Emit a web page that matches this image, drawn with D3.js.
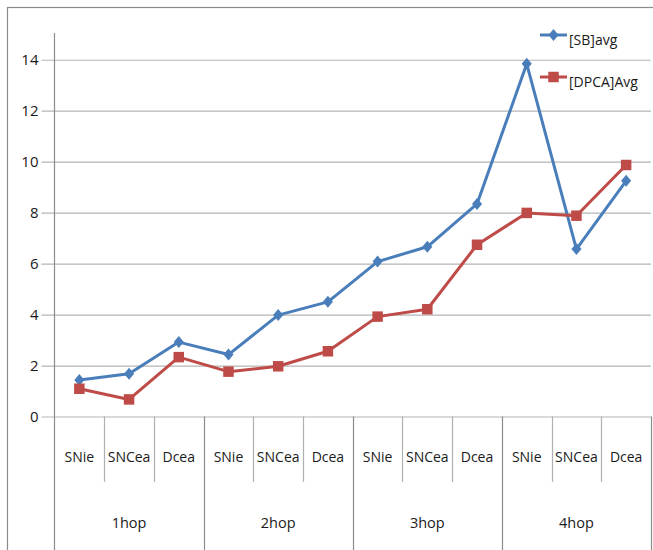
<!DOCTYPE html>
<html>
<head>
<meta charset="utf-8">
<script src="https://cdn.jsdelivr.net/npm/d3@7"></script>
<style>
  html, body { margin: 0; padding: 0; background: #fff; }
  svg { display: block; }
  text { font-family: "Open Sans", "Noto Sans", sans-serif; fill: #1a1a1a; }
</style>
</head>
<body>
<svg id="chart" width="653" height="550"></svg>
<script>
// Hop groups and the three methods measured inside each group
const groups = ["1hop", "2hop", "3hop", "4hop"];
const methods = ["SNie", "SNCea", "Dcea"];

// Average values per (group, method), in group order
const sbAvg   = [1.43, 1.68, 2.92, 2.43, 3.98, 4.50, 6.08, 6.66, 8.34, 13.84, 6.57, 9.25];
const dpcaAvg = [1.09, 0.67, 2.33, 1.76, 1.97, 2.56, 3.92, 4.21, 6.74, 7.99, 7.88, 9.87];

const seriesNames = ["[SB]avg", "[DPCA]Avg"];
const yTicks = [0, 2, 4, 6, 8, 10, 12, 14];

const svg = d3.select("#chart");
const W = 653, H = 550;
const plotLeft = 54.5, plotRight = 651, plotTop = 33, zeroY = 416.5;

const keys = [];
groups.forEach(g => methods.forEach(m => keys.push({ g, m, id: g + "|" + m })));

const x = d3.scaleBand().domain(keys.map(k => k.id)).range([plotLeft, plotRight]);
const y = d3.scaleLinear().domain([0, 15.05]).range([zeroY, plotTop]);

const gridColor = "#b5b5b5";
const axisColor = "#8c8c8c";

// outer frame
svg.append("rect")
  .attr("x", 7.5).attr("y", 7.5).attr("width", W + 20).attr("height", H + 20)
  .attr("fill", "none").attr("stroke", "#8a8a8a").attr("stroke-width", 1.2);

// horizontal gridlines with outside ticks
const yAxis = d3.axisLeft(y).tickValues(yTicks).tickSize(-(plotRight - plotLeft)).tickPadding(16).tickSizeOuter(0);
const yg = svg.append("g").attr("transform", `translate(${plotLeft},0)`).call(yAxis);
yg.select(".domain").remove();
yg.selectAll(".tick line").attr("stroke", gridColor).attr("stroke-width", 1.2).attr("x1", -13);
yg.selectAll(".tick text").attr("font-size", 15).attr("fill", "#1a1a1a")
  .attr("font-family", "'Open Sans', 'Noto Sans', sans-serif");

// vertical axis line
svg.append("line")
  .attr("x1", plotLeft).attr("x2", plotLeft).attr("y1", plotTop).attr("y2", H)
  .attr("stroke", axisColor).attr("stroke-width", 1.2);

// category separators in the table under the axis
const bounds = x.domain().map(d => x(d)).concat([plotRight]);
bounds.slice(1).forEach((bx, i) => {
  const isGroupEdge = (i + 1) % methods.length === 0;
  svg.append("line")
    .attr("x1", Math.round(bx) + 0.5).attr("x2", Math.round(bx) + 0.5)
    .attr("y1", zeroY).attr("y2", isGroupEdge ? H : 482)
    .attr("stroke", isGroupEdge ? axisColor : "#b0b0b0").attr("stroke-width", 1.2);
});

// method labels
svg.append("g").selectAll("text").data(keys).join("text")
  .attr("x", d => x(d.id) + x.bandwidth() / 2)
  .attr("y", 462)
  .attr("text-anchor", "middle")
  .attr("font-size", 14)
  .text(d => d.m);

// group labels
svg.append("g").selectAll("text").data(groups).join("text")
  .attr("x", g => (x(g + "|" + methods[0]) + x(g + "|" + methods[methods.length - 1]) + x.bandwidth()) / 2)
  .attr("y", 528)
  .attr("text-anchor", "middle")
  .attr("font-size", 14.5)
  .text(g => g);

const colors = ["#4a7ebb", "#be4b48"];
const series = [sbAvg, dpcaAvg];

const line = d3.line()
  .x((d, i) => x(keys[i].id) + x.bandwidth() / 2)
  .y(d => y(d));

const diamond = d3.symbol().type(d3.symbolDiamond).size(42);
const square = d3.symbol().type(d3.symbolSquare).size(110);

function drawMarker(sel, idx) {
  if (idx === 0) {
    sel.append("path").attr("d", diamond()).attr("transform", "scale(1.45,1.0)")
      .attr("fill", colors[0]);
  } else {
    sel.append("path").attr("d", square()).attr("fill", colors[1]);
  }
}

// series lines and markers
series.forEach((vals, si) => {
  svg.append("path").datum(vals)
    .attr("d", line).attr("fill", "none")
    .attr("stroke", colors[si]).attr("stroke-width", 3).attr("stroke-linejoin", "round");
  svg.append("g").selectAll("g").data(vals).join("g")
    .attr("transform", (d, i) => `translate(${x(keys[i].id) + x.bandwidth() / 2},${y(d)})`)
    .each(function () { drawMarker(d3.select(this), si); });
});

// legend
const legendRows = [35, 77];
seriesNames.forEach((name, si) => {
  const g = svg.append("g").attr("transform", `translate(540,${legendRows[si]})`);
  g.append("line").attr("x1", 0).attr("x2", 27).attr("y1", 0).attr("y2", 0)
    .attr("stroke", colors[si]).attr("stroke-width", 3);
  const m = g.append("g").attr("transform", "translate(13.5,0)");
  drawMarker(m, si);
  g.append("text").attr("x", 29).attr("y", 10).attr("font-size", 14).text(name);
});
</script>
</body>
</html>
